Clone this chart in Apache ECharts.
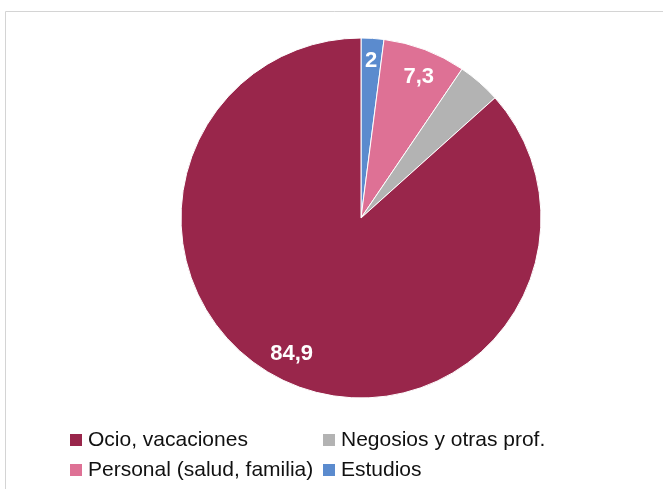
<!DOCTYPE html>
<html><head><meta charset="utf-8">
<script src="https://cdn.jsdelivr.net/npm/echarts@6/dist/echarts.min.js"></script>
<style>html,body{margin:0;padding:0;background:#fff}#c{width:663px;height:489px}</style>
</head><body><div id="c"></div>
<script>
// Data (drawn clockwise from 12 o'clock)
const categories = ['Estudios', 'Personal (salud, familia)', 'Negosios y otras prof.', 'Ocio, vacaciones'];
const values = [2, 7.3, 3.8, 84.9];
const labels = ['2', '7,3', '3,8', '84,9'];
const colors = ['#5B8BCE', '#DE7195', '#B3B3B3', '#99264B'];
const legendOrder = ['Ocio, vacaciones', 'Negosios y otras prof.', 'Personal (salud, familia)', 'Estudios'];

const center = [361, 218];
const R = 180;

const baseData = categories.map((n, i) => ({ name: n, value: values[i], itemStyle: { color: colors[i] } }));
const labelData = (show) => categories.map((n, i) => ({
  name: n, value: values[i],
  itemStyle: { color: 'rgba(0,0,0,0)' },
  label: { show: show(n), formatter: labels[i] }
}));
const labelStyle = { position: 'inside', color: '#fff', fontWeight: 'bold', fontSize: 22, fontFamily: 'Liberation Sans, Arial' };

const legendPos = [
  { left: 68, top: 429 },
  { left: 321, top: 429 },
  { left: 68, top: 459 },
  { left: 321, top: 459 }
];

function labelSeries(radius, startAngle, name) {
  return {
    type: 'pie', center: center, radius: radius, startAngle: startAngle, clockwise: true,
    silent: true, labelLine: { show: false }, legendHoverLink: false,
    label: labelStyle, data: labelData(n => n === name)
  };
}

const chart = echarts.init(document.getElementById('c'));
chart.setOption({
  animation: false,
  backgroundColor: '#fff',
  graphic: [{
    type: 'rect', shape: { x: 5.5, y: 11.5, width: 700, height: 520 },
    style: { fill: 'none', stroke: '#d4d4d4', lineWidth: 1 }, z: -10
  }],
  legend: legendOrder.map((name, i) => ({
    data: [name], left: legendPos[i].left, top: legendPos[i].top,
    padding: 0, itemWidth: 14, itemHeight: 14, icon: 'rect', selectedMode: false,
    textStyle: { fontFamily: 'Liberation Sans, Arial', fontSize: 21, color: '#111', lineHeight: 22 }
  })),
  series: [
    {
      type: 'pie', center: center, radius: [0, R], startAngle: 90, clockwise: true,
      silent: true, label: { show: false }, labelLine: { show: false },
      itemStyle: { borderColor: '#fff', borderWidth: 1 },
      data: baseData
    },
    labelSeries([R * 0.66, R], 87, 'Ocio, vacaciones'),
    labelSeries([R * 0.66, R], 88.5, 'Personal (salud, familia)'),
    labelSeries([R * 0.72, R], 90, 'Estudios'),
    labelSeries([R * 0.9, R * 1.21], 83.5, 'Negosios y otras prof.')
  ]
});
</script></body></html>
